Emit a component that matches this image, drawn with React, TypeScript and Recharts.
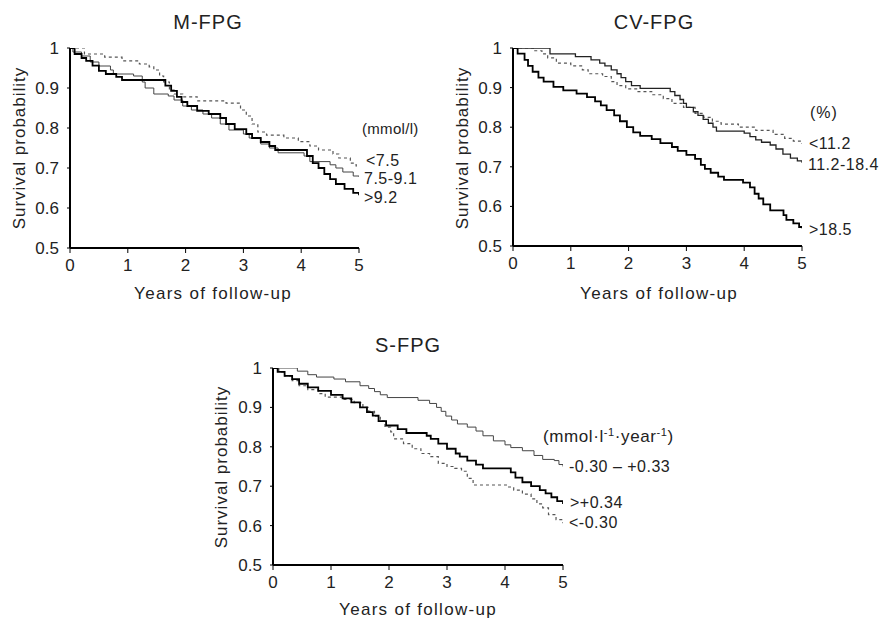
import React from 'react';
import { LineChart, Line, XAxis, YAxis } from 'recharts';

type Pt = { t: number; s: number };
const pts = (rows: number[][]): Pt[] => rows.map(([t, s]) => ({ t, s }));

// M-FPG (mmol/l)
const mLow = pts([[0,1],[0.25,0.985],[0.6,0.977],[0.9,0.968],[1.2,0.96],[1.37,0.953],[1.45,0.945],[1.55,0.93],[1.62,0.915],[1.72,0.895],[1.8,0.885],[1.95,0.878],[2.2,0.868],[2.7,0.862],[2.95,0.845],[3.05,0.83],[3.15,0.81],[3.25,0.79],[3.4,0.782],[3.7,0.775],[3.95,0.766],[4.15,0.755],[4.3,0.745],[4.55,0.735],[4.65,0.725],[4.85,0.712],[4.95,0.705],[5,0.705]]);
const mMid = pts([[0,1],[0.05,0.99],[0.2,0.98],[0.35,0.965],[0.5,0.955],[0.7,0.945],[0.75,0.935],[1.1,0.93],[1.25,0.915],[1.3,0.9],[1.45,0.885],[1.7,0.88],[1.8,0.87],[1.95,0.855],[2.1,0.845],[2.3,0.835],[2.45,0.825],[2.6,0.81],[2.75,0.795],[3.0,0.785],[3.1,0.775],[3.3,0.76],[3.45,0.75],[3.6,0.738],[4.05,0.73],[4.15,0.716],[4.5,0.708],[4.6,0.7],[4.72,0.69],[4.9,0.68],[5,0.678]]);
const mHigh = pts([[0,1],[0.08,0.985],[0.2,0.975],[0.28,0.968],[0.39,0.956],[0.5,0.943],[0.62,0.935],[0.8,0.928],[0.9,0.92],[1.65,0.906],[1.75,0.893],[1.85,0.878],[1.93,0.865],[2.03,0.855],[2.2,0.843],[2.4,0.835],[2.6,0.825],[2.7,0.81],[2.85,0.797],[3.05,0.785],[3.15,0.775],[3.3,0.765],[3.45,0.755],[3.55,0.745],[4.1,0.73],[4.2,0.712],[4.3,0.7],[4.4,0.685],[4.5,0.672],[4.6,0.66],[4.75,0.648],[4.9,0.638],[5,0.632]]);

// CV-FPG (%)
const cvLow = pts([[0,1],[0.35,0.993],[0.5,0.985],[0.6,0.975],[0.75,0.962],[1.0,0.955],[1.2,0.945],[1.3,0.935],[1.55,0.928],[1.7,0.915],[1.8,0.905],[1.95,0.897],[2.15,0.89],[2.4,0.882],[2.6,0.872],[2.75,0.86],[2.95,0.85],[3.15,0.835],[3.3,0.825],[3.45,0.815],[3.6,0.808],[3.9,0.8],[4.2,0.792],[4.5,0.782],[4.7,0.772],[4.85,0.765],[4.97,0.76],[5,0.758]]);
const cvMid = pts([[0,1],[0.64,0.985],[1.08,0.978],[1.35,0.97],[1.5,0.962],[1.59,0.955],[1.7,0.945],[1.8,0.935],[1.87,0.925],[1.95,0.915],[2.05,0.905],[2.2,0.898],[2.72,0.89],[2.8,0.88],[2.89,0.87],[2.95,0.86],[3.0,0.85],[3.12,0.839],[3.2,0.83],[3.29,0.82],[3.38,0.81],[3.46,0.8],[3.52,0.79],[4.0,0.785],[4.1,0.776],[4.2,0.768],[4.3,0.762],[4.45,0.755],[4.55,0.745],[4.67,0.732],[4.8,0.722],[4.92,0.715],[5,0.71]]);
const cvHigh = pts([[0,1],[0.08,0.986],[0.2,0.97],[0.26,0.955],[0.34,0.94],[0.44,0.925],[0.53,0.915],[0.7,0.902],[0.87,0.893],[1.1,0.885],[1.28,0.876],[1.42,0.865],[1.52,0.855],[1.62,0.843],[1.75,0.83],[1.85,0.815],[1.97,0.8],[2.08,0.787],[2.2,0.778],[2.4,0.77],[2.55,0.76],[2.75,0.75],[2.85,0.74],[3.0,0.73],[3.15,0.72],[3.25,0.705],[3.32,0.695],[3.42,0.685],[3.55,0.675],[3.65,0.667],[3.98,0.66],[4.1,0.648],[4.18,0.632],[4.25,0.62],[4.33,0.605],[4.45,0.59],[4.68,0.578],[4.73,0.566],[4.85,0.557],[4.95,0.548],[5,0.545]]);

// S-FPG (mmol·l-1·year-1)
const sMid = pts([[0,1],[0.42,0.992],[0.6,0.983],[0.75,0.977],[1.05,0.972],[1.25,0.965],[1.5,0.955],[1.65,0.948],[1.75,0.94],[1.85,0.932],[1.97,0.925],[2.5,0.918],[2.7,0.91],[2.82,0.9],[2.9,0.89],[2.98,0.878],[3.08,0.868],[3.18,0.858],[3.35,0.85],[3.5,0.84],[3.62,0.828],[3.8,0.815],[4.0,0.805],[4.1,0.798],[4.3,0.79],[4.5,0.778],[4.65,0.768],[4.85,0.765],[4.93,0.755],[5,0.75]]);
const sHigh = pts([[0,1],[0.08,0.99],[0.2,0.98],[0.33,0.972],[0.45,0.96],[0.6,0.951],[0.78,0.942],[1.0,0.932],[1.2,0.923],[1.35,0.913],[1.5,0.9],[1.62,0.888],[1.72,0.879],[1.82,0.865],[1.95,0.854],[2.15,0.845],[2.3,0.835],[2.65,0.828],[2.72,0.82],[2.85,0.808],[3.0,0.795],[3.15,0.783],[3.22,0.775],[3.35,0.765],[3.5,0.755],[3.62,0.745],[4.1,0.735],[4.18,0.722],[4.3,0.71],[4.45,0.7],[4.6,0.69],[4.7,0.682],[4.8,0.672],[4.9,0.662],[5,0.655]]);
const sLow = pts([[0,1],[0.1,0.99],[0.2,0.98],[0.33,0.968],[0.45,0.955],[0.6,0.945],[0.78,0.935],[0.9,0.926],[1.2,0.92],[1.4,0.912],[1.55,0.9],[1.65,0.89],[1.75,0.878],[1.85,0.865],[1.93,0.85],[2.03,0.838],[2.08,0.82],[2.25,0.808],[2.4,0.795],[2.55,0.783],[2.7,0.775],[2.85,0.758],[3.0,0.75],[3.13,0.745],[3.25,0.738],[3.35,0.72],[3.45,0.703],[4.05,0.698],[4.15,0.69],[4.3,0.68],[4.45,0.668],[4.55,0.655],[4.65,0.645],[4.75,0.628],[4.88,0.615],[5,0.606]]);

const xTicks = [0, 1, 2, 3, 4, 5];
const yTicks = [0.5, 0.6, 0.7, 0.8, 0.9, 1];

const FONT = '"Liberation Sans", Arial, Helvetica, sans-serif';

type Series = { data: Pt[]; kind: 'dash' | 'thin' | 'thick' | 'mid' };
const styleOf = {
  dash: { stroke: '#555', strokeWidth: 1.2, strokeDasharray: '3 3' },
  thin: { stroke: '#444', strokeWidth: 1 },
  mid: { stroke: '#222', strokeWidth: 1.3 },
  thick: { stroke: '#000', strokeWidth: 1.8 },
};

function Panel({ left, top, margin, series }: { left: number; top: number; margin: any; series: Series[] }) {
  const tick = { fontSize: 17, fill: '#222', fontFamily: FONT };
  return (
    <div style={{ position: 'absolute', left, top }}>
      <LineChart width={400} height={300} margin={margin}>
        <XAxis dataKey="t" type="number" domain={[0, 5]} ticks={xTicks} allowDataOverflow
          axisLine={{ stroke: '#000', strokeWidth: 2 }} tickLine={{ stroke: '#000' }}
          tickSize={5} tickMargin={6} height={30} tick={tick} />
        <YAxis type="number" domain={[0.5, 1]} ticks={yTicks} allowDataOverflow width={50}
          axisLine={{ stroke: '#000', strokeWidth: 2 }} tickLine={{ stroke: '#000' }}
          tickSize={3} tickMargin={8} tick={tick}
          tickFormatter={(v: number) => (v === 1 ? '1' : v.toFixed(1))} />
        {series.map((s, i) => (
          <Line key={i} data={s.data} dataKey="s" type="stepAfter" dot={false} activeDot={false}
            isAnimationActive={false} {...styleOf[s.kind]} />
        ))}
      </LineChart>
    </div>
  );
}

function T({ x, y, size = 16, anchor = 'start', rotate = false, ls = 0.5, children }:
  { x: number; y: number; size?: number; anchor?: 'start' | 'middle'; rotate?: boolean; ls?: number; children: React.ReactNode }) {
  const tx = anchor === 'middle' ? '-50%' : '0';
  return (
    <div style={{
      position: 'absolute', left: x, top: y, fontFamily: FONT, fontSize: size, color: '#222',
      letterSpacing: ls, whiteSpace: 'nowrap', lineHeight: 1,
      transform: `translate(${tx}, -50%)${rotate ? ' rotate(-90deg)' : ''}`,
      transformOrigin: rotate ? '50% 50%' : undefined,
    }}>{children}</div>
  );
}

export default function App() {
  return (
    <div style={{ position: 'absolute', left: 0, top: 0, width: 880, height: 620, background: '#fff', overflow: 'hidden' }}>
      <Panel left={0} top={0} margin={{ top: 48, right: 41, bottom: 22, left: 20 }}
        series={[{ data: mLow, kind: 'dash' }, { data: mMid, kind: 'thin' }, { data: mHigh, kind: 'thick' }]} />
      <Panel left={440} top={0} margin={{ top: 48, right: 38, bottom: 24, left: 23 }}
        series={[{ data: cvLow, kind: 'dash' }, { data: cvMid, kind: 'mid' }, { data: cvHigh, kind: 'thick' }]} />
      <Panel left={200} top={300} margin={{ top: 68, right: 37, bottom: 5, left: 23 }}
        series={[{ data: sLow, kind: 'dash' }, { data: sMid, kind: 'thin' }, { data: sHigh, kind: 'thick' }]} />

      <T x={208} y={22} size={20} anchor="middle" ls={1}>M-FPG</T>
      <T x={654} y={22} size={20} anchor="middle" ls={1}>CV-FPG</T>
      <T x={408} y={345} size={20} anchor="middle" ls={1}>S-FPG</T>

      <T x={19} y={148} size={17} anchor="middle" rotate ls={1}>Survival probability</T>
      <T x={462} y={148} size={17} anchor="middle" rotate ls={1}>Survival probability</T>
      <T x={221} y={467} size={17} anchor="middle" rotate ls={1}>Survival probability</T>

      <T x={213} y={293} size={17} anchor="middle" ls={1.3}>Years of follow-up</T>
      <T x={659} y={293} size={17} anchor="middle" ls={1.3}>Years of follow-up</T>
      <T x={418} y={609} size={17} anchor="middle" ls={1.3}>Years of follow-up</T>

      <T x={362} y={128} size={15} ls={0.3}>(mmol/l)</T>
      <T x={366} y={161}>&lt;7.5</T>
      <T x={364} y={179}>7.5-9.1</T>
      <T x={364} y={198}>&gt;9.2</T>

      <T x={810} y={113} ls={1}>(%)</T>
      <T x={809} y={144}>&lt;11.2</T>
      <T x={808} y={165}>11.2-18.4</T>
      <T x={809} y={230}>&gt;18.5</T>

      <T x={543} y={436} size={17} ls={0.6}>(mmol·l<sup style={{ fontSize: 11 }}>-1</sup>·year<sup style={{ fontSize: 11 }}>-1</sup>)</T>
      <T x={569} y={467}>-0.30 – +0.33</T>
      <T x={570} y={503}>&gt;+0.34</T>
      <T x={569} y={523}>&lt;-0.30</T>
    </div>
  );
}
